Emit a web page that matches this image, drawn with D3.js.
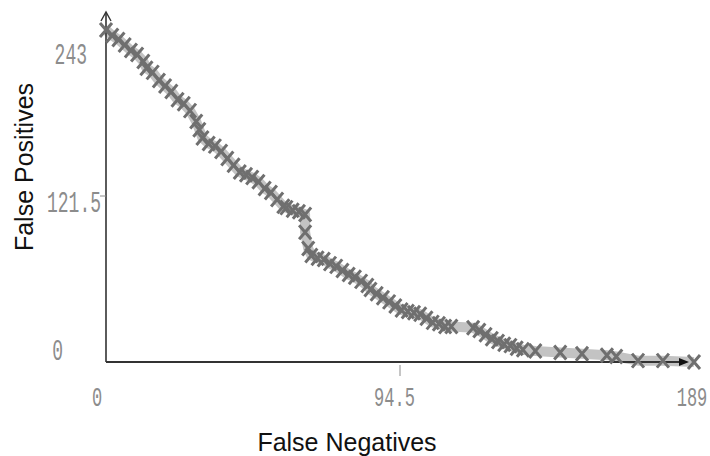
<!DOCTYPE html>
<html>
<head>
<meta charset="utf-8">
<script src="https://cdn.jsdelivr.net/npm/d3@7"></script>
<style>
  html, body { margin: 0; padding: 0; background: #fff; }
  svg { display: block; }
</style>
</head>
<body>
<svg id="chart" width="710" height="456"></svg>
<script>
// ---- data ----
const falseNegatives = [0,2,4,6,8,10,12,13,15,17,19,21,23,25,27,29,30,31,33,35,37,39,41,43,45,47,49,51,53,55,57,58,60,62,64,64,65,66,68,70,72,74,76,78,80,82,84,85,87,89,91,93,95,97,99,101,103,105,107,109,111,118,120,122,124,126,128,130,132,134,138,146,153,161,164,171,179,189];
const falsePositives = [243,239,236,232,228,225,220,215,212,206,202,198,192,189,184,176,170,164,160,158,154,149,144,139,137,135,132,127,124,119,114,113,111,110,108,95,83,78,76,75,72,70,67,64,62,59,56,53,50,47,44,41,38,37,36,35,32,29,28,26,26,25,23,20,17,15,13,12,10,9,8,7,6,5,4,1,1,0];
const xTicks = [0, 94.5, 189];
const xTickLabels = ["0", "94.5", "189"];
const yTicks = [0, 121.5, 243];
const yTickLabels = ["0", "121.5", "243"];
const xTitle = "False Negatives";
const yTitle = "False Positives";

const points = falseNegatives.map((d, i) => ({ fn: d, fp: falsePositives[i] }));

// ---- layout ----
const svg = d3.select("#chart");
const x = d3.scaleLinear().domain([0, 189]).range([106, 694]);
const y = d3.scaleLinear().domain([0, 243]).range([362, 30]);
// tick labels in the original sit slightly off their ticks
const xLab = d3.scaleLinear().domain([0, 189]).range([97, 692]);
const yLab = d3.scaleLinear().domain([0, 243]).range([352, 56]);
const yLabRight = d => d === 0 ? 63 : (d === 243 ? 87 : 101);

const axisColor = "#333";
const tickColor = "#8c8c8c";

// band
const line = d3.line().x(d => x(d.fn)).y(d => y(d.fp));
svg.append("path")
  .datum(points)
  .attr("d", line)
  .attr("fill", "none")
  .attr("stroke", "#c3c3c3")
  .attr("stroke-width", 10)
  .attr("stroke-linejoin", "round");

// axes lines
svg.append("line").attr("x1", x(0)).attr("x2", x(0)).attr("y1", y(0)).attr("y2", 13)
  .attr("stroke", axisColor).attr("stroke-width", 1.6);
svg.append("path").attr("d", `M${x(0)-5},21L${x(0)},12L${x(0)+5},21`)
  .attr("fill", "none").attr("stroke", axisColor).attr("stroke-width", 1.4);
svg.append("line").attr("x1", x(0)).attr("x2", 682).attr("y1", y(0)).attr("y2", y(0))
  .attr("stroke", axisColor).attr("stroke-width", 1.8);
svg.append("path").attr("d", `M689,${y(0)}L679,${y(0)-4}L679,${y(0)+4}Z`)
  .attr("fill", "#111");

// markers
svg.append("g").selectAll("path.mk")
  .data(points)
  .join("path")
  .attr("class", "mk")
  .attr("transform", d => `translate(${x(d.fn)},${y(d.fp)})`)
  .attr("d", "M-6,-7L6,7M-6,7L6,-7")
  .attr("stroke", "#6f6f6f")
  .attr("stroke-width", 3)
  .attr("fill", "none");

// tick marks
svg.append("line").attr("x1", x(94.5)).attr("x2", x(94.5)).attr("y1", y(0) + 3).attr("y2", y(0) + 14)
  .attr("stroke", tickColor).attr("stroke-width", 1);
svg.append("line").attr("x1", x(0) - 6).attr("x2", x(0)).attr("y1", y(121.5)).attr("y2", y(121.5))
  .attr("stroke", tickColor).attr("stroke-width", 1);

// tick labels (narrow, tall monospace look)
const tickFont = "'Liberation Mono', 'DejaVu Sans Mono', monospace";
svg.append("g").selectAll("text")
  .data(xTicks)
  .join("text")
  .attr("transform", d => `translate(${xLab(d)},399) scale(1,1.6)`)
  .attr("text-anchor", "middle")
  .attr("dominant-baseline", "central")
  .attr("font-family", tickFont)
  .attr("font-size", 17)
  .attr("fill", tickColor)
  .text((d, i) => xTickLabels[i]);

svg.append("g").selectAll("text")
  .data(yTicks)
  .join("text")
  .attr("transform", d => `translate(${yLabRight(d)},${yLab(d)}) scale(1,1.6)`)
  .attr("text-anchor", "end")
  .attr("dominant-baseline", "central")
  .attr("font-family", tickFont)
  .attr("font-size", 18)
  .attr("fill", tickColor)
  .text((d, i) => yTickLabels[i]);

// axis titles
svg.append("text")
  .attr("x", 347).attr("y", 451)
  .attr("text-anchor", "middle")
  .attr("font-family", "'Liberation Sans', Arial, sans-serif")
  .attr("font-size", 25)
  .attr("fill", "#111")
  .text(xTitle);

svg.append("text")
  .attr("transform", "translate(33,167) rotate(-90)")
  .attr("text-anchor", "middle")
  .attr("font-family", "'Liberation Sans', Arial, sans-serif")
  .attr("font-size", 25)
  .attr("fill", "#111")
  .text(yTitle);
</script>
</body>
</html>
